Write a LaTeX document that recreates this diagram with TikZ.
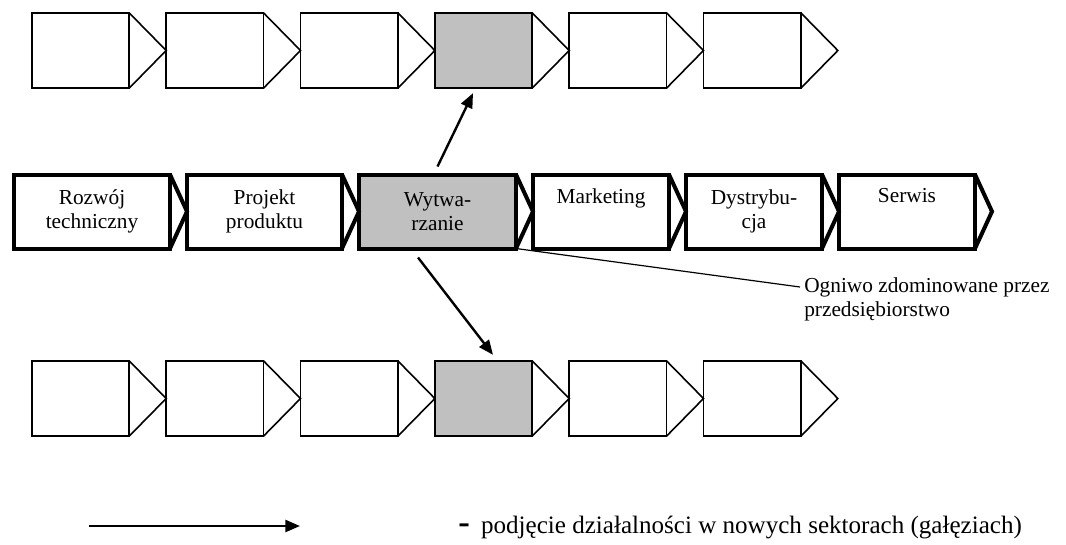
\documentclass[tikz,border=0pt]{standalone}
\usepackage{fontspec}
\setmainfont{Liberation Serif}
\usepackage{tikz}
\usetikzlibrary
  {
    arrows.meta,              % filled triangle tips
    positioning,              % place nodes relative to other nodes
    calc,                     % tips of the chain links
  }

\definecolor{linkgray}{RGB}{192,192,192}

\begin{document}
\begin{tikzpicture}
    [
      x=0.75pt, y=-0.75pt,
      every node/.style={font=\fontsize{16}{18}\selectfont},
      thin link/.style=
        {
          rectangle,
          draw=black,
          line width=1.2pt,
          outer sep=0pt,
          minimum width=73pt,
          minimum height=56.5pt,
        },
      thick link/.style=
        {
          rectangle,
          draw=black,
          line width=3pt,
          outer sep=0pt,
          minimum height=55.5pt,
          align=center,
          inner sep=0pt,
        },
      own/.style={fill=linkgray},
      jump/.style={line width=1.8pt, -{Triangle[length=11pt,width=9pt]}},
    ]
    \useasboundingbox (0,0) rectangle (1066,544);

    % upper chain
    \node[thin link]      (t1) at (80.5,50.5) {};
    \node[thin link]      (t2) [right=27.75pt of t1] {};
    \node[thin link]      (t3) [right=27.75pt of t2] {};
    \node[thin link, own] (t4) [right=27.75pt of t3] {};
    \node[thin link]      (t5) [right=27.75pt of t4] {};
    \node[thin link]      (t6) [right=27.75pt of t5] {};

    % main chain
    \node[thick link, minimum width=117pt]         (m1) at (92,211.5)  {Rozwój\\techniczny};
    \node[thick link, minimum width=116.25pt]      (m2) [right=12.75pt of m1] {Projekt\\produktu};
    \node[thick link, minimum width=117.75pt, own] (m3) [right=12.75pt of m2] {Wytwa-\\rzanie};
    \node[thick link, minimum width=102pt]         (m4) [right=12.75pt of m3] {Marketing\\\strut};
    \node[thick link, minimum width=102pt]         (m5) [right=12.75pt of m4] {Dystrybu-\\cja};
    \node[thick link, minimum width=102pt]         (m6) [right=12.75pt of m5] {Serwis\\\strut};

    % lower chain
    \node[thin link]      (b1) at (80.5,398.5) {};
    \node[thin link]      (b2) [right=27.75pt of b1] {};
    \node[thin link]      (b3) [right=27.75pt of b2] {};
    \node[thin link, own] (b4) [right=27.75pt of b3] {};
    \node[thin link]      (b5) [right=27.75pt of b4] {};
    \node[thin link]      (b6) [right=27.75pt of b5] {};

    % tips of the links
    \foreach \i in {1,...,6}
      {
        \draw[line width=1.2pt] (t\i.north east) -- ($(t\i.east)+(37,0)$) -- (t\i.south east);
        \draw[line width=1.2pt] (b\i.north east) -- ($(b\i.east)+(37,0)$) -- (b\i.south east);
        \draw[line width=3pt]   (m\i.north east) -- ($(m\i.east)+(17,0)$) -- (m\i.south east);
      }

    % moves into new sectors
    \draw[jump] ([shift={(0,-8)}]m3.north) -- ([shift={(-10.5,5)}]t4.south);
    \draw[jump] ([shift={(-19.5,9)}]m3.south) -- ([shift={(9.5,-6)}]b4.north);

    \node[anchor=north west, align=left, inner sep=0pt] (note) at (804,277)
      {Ogniwo zdominowane przez\\przedsiębiorstwo};
    \draw[line width=0.9pt] (m3.south east) -- ([shift={(-4,10)}]note.north west);

    % legend
    \coordinate (leg start) at (89,526);
    \coordinate (leg end)   at (300,526);
    \draw[jump] (leg start) -- (leg end);
    \node[anchor=west, inner sep=0pt, font=\fontsize{18.8}{20}\selectfont] (legend) at (458,527)
      {{\fontsize{26}{26}\selectfont\textbf{-}}\hspace{0.45em}podjęcie działalności w nowych sektorach (gałęziach)};
\end{tikzpicture}
\end{document}
